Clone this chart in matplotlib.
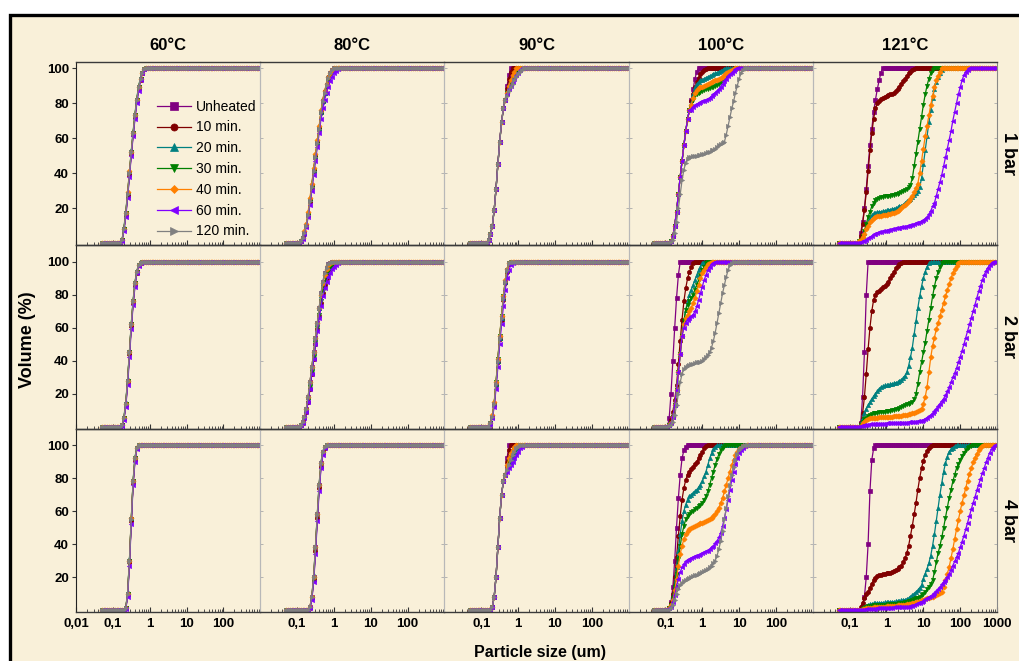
import numpy as np
import matplotlib
matplotlib.use('Agg')
import matplotlib.pyplot as plt
from matplotlib.patches import Rectangle
from matplotlib.ticker import LogLocator, NullFormatter

plt.rcParams['font.family'] = ['Liberation Sans', 'DejaVu Sans']

# laser diffraction size classes (um)
sizes = np.array([
    0.0502, 0.0564, 0.0632, 0.0710, 0.0796, 0.0893, 0.1002, 0.1125, 0.1262, 0.1416,
    0.1589, 0.1783, 0.2000, 0.2244, 0.2518, 0.2825, 0.3170, 0.3557, 0.3991, 0.4477,
    0.5024, 0.5637, 0.6325, 0.7096, 0.7962, 0.8934, 1.002, 1.125, 1.262, 1.416,
    1.589, 1.783, 2.000, 2.244, 2.518, 2.825, 3.170, 3.557, 3.991, 4.477,
    5.024, 5.637, 6.325, 7.096, 7.962, 8.934, 10.02, 11.25, 12.62, 14.16,
    15.89, 17.83, 20.00, 22.44, 25.18, 28.25, 31.70, 35.57, 39.91, 44.77,
    50.24, 56.37, 63.25, 70.96, 79.62, 89.34, 100.2, 112.5, 126.2, 141.6,
    158.9, 178.3, 200.0, 224.4, 251.8, 282.5, 317.0, 355.7, 399.1, 447.7,
    502.4, 563.7, 632.5, 709.6, 796.2, 893.4, 1002.0])

series = ['Unheated', '10 min.', '20 min.', '30 min.', '40 min.', '60 min.', '120 min.']
colors = ['#800080', '#800000', '#008080', '#008000', '#FF8000', '#8000FF', '#808080']
markers = ['s', 'o', '^', 'v', 'D', '<', '>']
temps = ['60°C', '80°C', '90°C', '100°C', '121°C']
pressures = ['1 bar', '2 bar', '4 bar']

# cumulative volume %: (first size class listed, values); 0 below, 100 above
t60_1bar = {
    'Unheated': (0.1783, [2, 8, 17, 28, 40, 52, 63, 73, 82, 89, 94, 97.5, 99.5]),
    '10 min.': (0.1783, [2, 8, 16, 27, 39, 51, 62, 72, 81, 88, 93.5, 97, 99.5]),
    '20 min.': (0.1783, [2, 9, 18, 29, 41, 53, 64, 74, 83, 90, 94.5, 98, 99.6]),
    '30 min.': (0.1783, [2, 8, 17, 28, 40, 52, 63, 73, 82, 89, 94, 97.5, 99.5]),
    '40 min.': (0.1783, [2, 8, 17, 29, 41, 52, 63, 73, 82, 89, 94, 97.5, 99.5]),
    '60 min.': (0.1783, [1.5, 7, 15, 26, 38, 50, 61, 71, 80, 87, 93, 97, 99.3]),
    '120 min.': (0.1783, [2, 8, 17, 28, 40, 52, 63, 73, 82, 89, 94, 97.5, 99.5]),
}
t60_2bar = {
    'Unheated': (0.1783, [1, 5, 14, 28, 45, 62, 76, 87, 94, 98, 99.5]),
    '10 min.': (0.1783, [1, 5, 13, 27, 44, 61, 75, 86, 93.5, 98, 99.5]),
    '20 min.': (0.1783, [1, 6, 15, 29, 46, 63, 77, 88, 94.5, 98.5, 99.6]),
    '30 min.': (0.1783, [1, 5, 14, 28, 45, 62, 76, 87, 94, 98, 99.5]),
    '40 min.': (0.1783, [1, 5, 14, 28, 45, 62, 76, 87, 94, 98, 99.5]),
    '60 min.': (0.1783, [0.5, 4, 12, 25, 42, 59, 74, 85, 93, 97.5, 99.3]),
    '120 min.': (0.1783, [1, 5, 14, 28, 45, 62, 76, 87, 94, 98, 99.5]),
}
t60_4bar = {
    'Unheated': (0.2244, [1, 10, 30, 55, 78, 92, 98]),
    '10 min.': (0.2244, [1, 9, 29, 54, 77, 91, 98]),
    '20 min.': (0.2244, [1, 11, 31, 56, 79, 93, 98.5]),
    '30 min.': (0.2244, [1, 10, 30, 55, 78, 92, 98]),
    '40 min.': (0.2244, [1, 10, 30, 56, 78, 92, 98]),
    '60 min.': (0.2244, [0.5, 8, 27, 52, 76, 90, 97.5]),
    '120 min.': (0.2244, [1, 10, 30, 55, 78, 92, 98]),
}

t80_1bar = {
    'Unheated': (0.1262, [1, 3, 6, 10, 16, 24, 32, 41, 49, 57, 65, 75, 81, 86, 90.5, 94.5, 97, 99]),
    '10 min.': (0.1262, [1, 3, 6, 10, 16, 24, 33, 42, 50, 58, 66, 75, 82, 87, 91, 95, 97.5, 99]),
    '20 min.': (0.1262, [1, 3, 6, 11, 17, 25, 33, 42, 50, 58, 66, 75, 81, 86, 90.5, 94.5, 97, 99]),
    '30 min.': (0.1262, [1, 3, 6, 10, 16, 24, 32, 41, 49, 57, 65, 74, 80, 85, 89.5, 93.5, 96, 98, 99.5]),
    '40 min.': (0.1262, [1, 3, 7, 11, 18, 26, 34, 43, 51, 59, 67, 76, 82, 87, 91, 95, 97.5, 99]),
    '60 min.': (0.1262, [1, 2.5, 5, 9, 15, 22, 30, 39, 47, 55, 63, 71, 77, 82, 86, 89.5, 92.5, 95, 97, 98.5, 99.5]),
    '120 min.': (0.1262, [1, 3, 6, 10, 16, 24, 32, 41, 49, 57, 65, 75, 81, 86, 90.5, 94.5, 97, 99]),
}
t80_2bar = {
    'Unheated': (0.1262, [1, 3, 6, 11, 18, 27, 36, 45, 54, 63, 72, 81, 88, 93, 96.5, 98.5, 99.5]),
    '10 min.': (0.1262, [1, 2.5, 5, 9, 15, 23, 32, 41, 50, 59, 67, 75, 81, 86, 90, 93, 95.5, 97, 98.5, 99.3]),
    '20 min.': (0.1262, [1, 3, 6, 11, 18, 27, 36, 45, 54, 63, 72, 80, 87, 92, 95.5, 98, 99.3]),
    '30 min.': (0.1262, [1, 2.5, 5, 10, 16, 24, 33, 42, 51, 60, 68, 76, 82, 87, 91, 94, 96, 97.5, 98.5, 99.3]),
    '40 min.': (0.1262, [1, 3, 6, 11, 18, 27, 36, 45, 54, 63, 72, 80, 87, 92, 95.5, 98, 99.3]),
    '60 min.': (0.1262, [1, 2.5, 5, 9, 15, 23, 32, 41, 50, 58, 66, 73, 79, 84, 88, 91, 93.5, 95.5, 97, 98, 99, 99.6]),
    '120 min.': (0.1262, [1, 3, 6, 11, 18, 27, 36, 45, 54, 63, 72, 81, 88, 93, 96.5, 98.5, 99.5]),
}
t80_4bar = {
    'Unheated': (0.2244, [2, 8, 20, 38, 58, 76, 89, 96, 99]),
    '10 min.': (0.2244, [1.5, 7, 18, 36, 56, 74, 87, 95, 98.5]),
    '20 min.': (0.2244, [2, 8, 21, 39, 59, 77, 90, 96.5, 99]),
    '30 min.': (0.2244, [1.5, 7, 19, 37, 57, 75, 88, 95.5, 99]),
    '40 min.': (0.2244, [2, 8, 20, 38, 58, 76, 89, 96, 99]),
    '60 min.': (0.2244, [1, 6, 17, 34, 54, 72, 86, 94, 98]),
    '120 min.': (0.2244, [2, 8, 20, 38, 58, 76, 89, 96, 99]),
}

rise90_1 = [2, 5, 10, 19, 31, 45, 58, 69, 77, 82]
t90_1bar = {
    'Unheated': (0.1589, rise90_1 + [90, 96]),
    '10 min.': (0.1589, rise90_1 + [88, 94, 98]),
    '20 min.': (0.1589, rise90_1 + [86, 89, 92, 95, 97, 99]),
    '30 min.': (0.1589, rise90_1 + [86, 89, 91, 93, 95, 97, 98.5]),
    '40 min.': (0.1589, rise90_1 + [86, 90, 93, 96, 98]),
    '60 min.': (0.1589, rise90_1 + [85, 88, 90, 92, 94, 96, 97.5, 99]),
    '120 min.': (0.1589, rise90_1 + [84, 87, 89, 91, 93, 95, 96.5, 98, 99]),
}
t90_2bar = {
    'Unheated': (0.1783, [2, 6, 14, 26, 40, 54, 66, 78, 88, 95, 99]),
    '10 min.': (0.1783, [2, 6, 13, 25, 39, 53, 65, 77, 87, 94, 98.5]),
    '20 min.': (0.1783, [2, 6, 14, 26, 40, 54, 66, 78, 88, 95, 99]),
    '30 min.': (0.1783, [2, 6, 14, 27, 41, 55, 67, 79, 88, 95, 99]),
    '40 min.': (0.1783, [2, 7, 15, 27, 41, 55, 67, 79, 89, 95.5, 99]),
    '60 min.': (0.1783, [1.5, 5, 12, 23, 36, 50, 62, 73, 83, 90, 95, 98, 99.5]),
    '120 min.': (0.1783, [2, 6, 14, 26, 40, 54, 66, 78, 88, 95, 99]),
}
rise90_4 = [2, 8, 20, 38, 56, 70, 78, 82]
t90_4bar = {
    'Unheated': (0.2000, rise90_4 + [92]),
    '10 min.': (0.2000, rise90_4 + [90, 97]),
    '20 min.': (0.2000, rise90_4 + [86, 88, 90, 92, 94, 96, 98]),
    '30 min.': (0.2000, rise90_4 + [87, 90, 93, 95, 97, 99]),
    '40 min.': (0.2000, rise90_4 + [88, 92, 95, 97, 99]),
    '60 min.': (0.2000, rise90_4 + [84, 86, 88, 90, 92, 94, 96, 98, 99]),
    '120 min.': (0.2000, rise90_4 + [85, 88, 91, 94, 96, 98, 99]),
}

rise100_1 = [1, 4, 10, 18, 28, 38, 47, 56, 64, 71, 76]
t100_1bar = {
    'Unheated': (0.1416, rise100_1 + [82, 88, 94, 98]),
    '10 min.': (0.1416, rise100_1 + [81, 85, 89, 92, 94.5, 96.5, 98, 99, 99.5]),
    '20 min.': (0.1416, rise100_1 + [80, 85, 89, 91, 92, 93, 93.5, 94, 94.5, 95, 95.5, 96,
                                     96.5, 97, 97.5, 98, 98.5, 99, 99.5]),
    '30 min.': (0.1416, rise100_1 + [78, 82, 84.5, 85.5, 86, 86.5, 87, 87.5, 88, 88.3, 88.6, 89,
                                     89.5, 90, 90.5, 91, 92, 93, 94, 95, 96, 97, 98, 99, 99.5]),
    '40 min.': (0.1416, rise100_1 + [79, 83, 86, 87.5, 88.5, 89, 89.5, 90, 90.5, 91, 91.5, 92,
                                     92.5, 93, 93.5, 94, 94.5, 95, 96, 97, 98, 98.5, 99, 99.5]),
    '60 min.': (0.1416, rise100_1 + [76, 78, 79, 79.5, 80, 80.5, 81, 81.5, 82, 82.5, 83, 84, 85,
                                     86, 87, 88, 89.5, 91, 92.5, 94, 95.5, 96.5, 97.5, 98.5,
                                     99.3, 99.8]),
    '120 min.': (0.1416, [0.5, 2, 6, 12, 20, 28, 36, 42, 46, 48, 49,
                          49.5, 50, 50, 50, 50.5, 50.5, 51, 51, 51.5, 52, 52, 53, 53.5, 54, 55, 56,
                          56.5, 57, 58, 62, 67, 72, 77, 81, 86, 90, 94, 97, 99]),
}
rise100_2 = [1, 2, 6, 13, 22, 33, 44, 55, 64, 71]
t100_2bar = {
    'Unheated': (0.1262, [5, 20, 40, 60, 78, 92]),
    '10 min.': (0.1262, [1, 4, 9, 16, 25, 38, 52, 65, 76, 84, 90, 94, 97, 99]),
    '20 min.': (0.1262, rise100_2 + [76, 80, 83, 86, 89, 92, 95, 97, 99]),
    '30 min.': (0.1262, rise100_2 + [74, 76, 78, 80, 83, 86, 89, 92, 95, 97, 99]),
    '40 min.': (0.1262, rise100_2[:8] + [62, 66, 68, 70, 72, 75, 78, 82, 86, 90, 93, 95, 97,
                                         98.5, 99.5]),
    '60 min.': (0.1262, rise100_2[:8] + [60, 63, 65, 66, 67, 68, 70, 73, 77, 81, 85, 89, 92, 95,
                                         97, 98.5, 99.5]),
    '120 min.': (0.1262, [0.5, 1, 3, 7, 13, 20, 27, 32, 35, 36.5, 37, 37.5, 38, 38, 38.5, 39, 39,
                          39.5, 40, 41, 42, 43.5, 45, 48, 52, 57, 63, 69, 75, 81, 86, 91, 95, 98,
                          99.5]),
}
t100_4bar = {
    'Unheated': (0.1262, [1, 5, 14, 30, 50, 68, 82, 92, 97, 99]),
    '10 min.': (0.1262, [1, 4, 10, 20, 32, 45, 57, 67, 74, 79, 82, 84, 85.5, 87, 88.5, 90, 92,
                         94, 96, 98, 99.3]),
    '20 min.': (0.1262, [1, 3, 8, 16, 26, 36, 46, 54, 60, 64, 67, 69, 70, 71, 72, 73, 74.5, 76,
                         78, 81, 84, 88, 92, 95, 97.5, 99]),
    '30 min.': (0.1262, [1, 3, 7, 14, 22, 31, 39, 46, 51, 55, 57, 58.5, 59.5, 60, 61, 62, 63, 64,
                         65, 67, 69, 72, 76, 80, 84, 88, 91.5, 94.5, 97, 98.5, 99.5]),
    '40 min.': (0.1262, [1, 3, 6, 12, 19, 27, 34, 39, 43, 46, 48, 49, 50, 50.5, 51, 51.5, 52,
                         52.5, 53, 53.5, 54, 54.5, 55, 56, 57, 58, 60, 62, 65, 68, 72, 76, 80, 84,
                         88, 91, 94, 96, 97.5, 98.5, 99.2, 99.7]),
    '60 min.': (0.1262, [1, 2, 5, 9, 14, 19, 23, 26, 28, 29.5, 30.5, 31, 31.5, 32, 32.5, 33,
                         33.5, 34, 34.5, 35, 35.5, 36, 37, 38, 39, 40.5, 42, 44, 47, 51, 56, 61,
                         67, 73, 79, 84, 88.5, 92, 95, 97, 98.5, 99.5]),
    '120 min.': (0.1416, [1, 3, 6, 10, 13, 15, 16.5, 17.5, 18.5, 19, 19.5, 20, 20.5, 21, 21.5,
                          22, 22.5, 23, 23.5, 24, 25, 26, 27, 28.5, 30, 33, 37, 42, 48, 55, 62,
                          69, 76, 82, 87, 91, 94.5, 97, 98.5, 99.5]),
}

t121_1bar = {
    'Unheated': (0.2000, [6, 12, 20, 31, 44, 56, 65, 75, 82, 88, 93, 97.5]),
    '10 min.': (0.2000, [4, 11, 19, 29, 41, 53, 63, 71, 77, 80, 81.5, 82.5, 83, 83.5, 84, 84.5,
                         85, 85.5, 86, 87, 88, 89.5, 91, 92.5, 94, 95.5, 97, 98, 99, 99.5]),
    '20 min.': (0.1783, [1, 2, 4, 6, 9, 12, 14, 16, 17, 17.5,
                         17.8, 18, 18, 18.2, 18.5, 18.7, 19, 19.2, 19.5, 19.8, 20, 20.5, 21, 21.5,
                         22, 23, 24, 24.5, 25.5, 26.5, 27.5, 28.5, 30,
                         32, 37, 45, 53, 61, 69, 76, 83, 88, 92, 95, 97.5, 99]),
    '30 min.': (0.1783, [1, 2, 4, 7, 11, 15, 18, 21, 23, 24.5, 25.5, 26,
                         26.3, 26.5, 26.7, 27, 27, 27.2, 27.5, 27.7, 28, 28.3, 28.7, 29.2, 30,
                         30.5, 31, 32, 33.5, 37, 44, 51, 58, 65, 72, 79, 85, 90, 94, 97, 99]),
    '40 min.': (0.1783, [1, 2, 3.5, 5.5, 8, 10, 12, 13.5, 14.5, 15,
                         15.3, 15.5, 15.7, 16, 16, 16.2, 16.5, 16.7, 17, 17.3, 17.7, 18.2, 19, 20,
                         21, 22, 23, 24, 25.5, 27, 29, 31.5, 34, 40, 47, 54, 61, 67, 73, 79, 84,
                         89, 93, 95.5, 98]),
    '60 min.': (0.2000, [0.5, 1, 1.5, 2, 3, 3.5, 4, 5, 5.5, 6,
                         6.2, 6.5, 6.8, 7, 7.2, 7.5, 7.7, 8, 8.2, 8.5, 8.7, 8.9, 9.1, 9.3, 9.5,
                         9.7, 10, 10.3, 10.6, 11, 11.4, 11.8, 12.2, 12.6, 13,
                         14, 15, 16.5, 18.5, 21, 23, 27, 31, 35, 39, 44, 49, 54, 59, 64, 70, 75,
                         80, 85, 89, 93, 96, 98, 99]),
}
t121_2bar = {
    'Unheated': (0.2000, [2, 18, 45, 80]),
    '10 min.': (0.2000, [2, 8, 18, 32, 47, 60, 70, 77, 80, 81.5, 82.5, 83.5, 84.5, 85.5, 86.5, 88,
                         90, 92, 94, 96, 97.5, 98.5, 99.5]),
    '20 min.': (0.2000, [2, 5, 8.5, 11, 13, 15, 17, 18.5, 20, 21.5, 23, 24,
                         24.5, 25, 25, 25.3, 25.6, 26, 26.3, 26.7, 27, 27.5,
                         28.5, 29.5, 31, 33, 37, 42, 48, 56, 64, 72, 79, 85, 90, 94, 97, 99]),
    '30 min.': (0.2000, [1, 3, 4.5, 5.5, 6.5, 7, 7.5, 8, 8.3,
                         8.5, 8.7, 9, 9, 9.2, 9.4, 9.6, 9.8, 10, 10.3, 10.6, 11, 11.5,
                         12, 12.5, 13, 13.5, 14, 14.5, 15, 16.5, 20, 26, 33, 39, 45, 51, 58, 65,
                         72, 79, 85, 90, 94, 97, 99]),
    '40 min.': (0.2000, [0.5, 2, 3, 4, 4.5, 5, 5.2, 5.4,
                         5.5, 5.5, 5.6, 5.7, 5.8, 5.8, 5.9, 6, 6, 6.1, 6.2, 6.3, 6.4, 6.5, 6.7,
                         6.9, 7.1, 7.3, 7.5, 7.7,
                         8, 8.5, 9, 9.5, 10, 11, 14, 18, 24, 33, 42, 49, 54, 59, 63, 67, 71, 75,
                         79, 83, 86.5, 90, 93, 95.5, 97.5, 99]),
    '60 min.': (0.2000, [0.3, 0.6, 1,
                         1.2, 1.3, 1.4, 1.5, 1.6, 1.7, 1.7, 1.8, 1.8, 1.9, 1.9, 2, 2, 2.1, 2.1,
                         2.2, 2.2, 2.3, 2.3, 2.4, 2.4, 2.5, 2.5, 2.6, 2.7, 2.8, 3, 3.1, 3.2, 3.3,
                         3.5, 4, 4.8, 5.5, 6.3, 7, 8, 9.5, 11, 12.5, 14, 15.5, 17, 19, 21.5, 24,
                         27, 30, 32.5, 35.5, 39, 42.5, 46, 50, 54, 58, 62, 66, 70, 74, 78, 82,
                         85.5, 89, 92, 94.5, 96.5, 98, 99]),
}
t121_4bar = {
    'Unheated': (0.2244, [2, 8, 20, 40, 72, 91, 98]),
    '10 min.': (0.2000, [2, 4.5, 7, 9.5, 11, 13.5, 16, 18, 19.5, 20.5, 21, 21.5, 22, 22, 22.2,
                         22.4, 22.6, 23, 23.5, 24, 25, 26, 27, 29, 31.5, 34.5, 39, 45, 51, 58, 65,
                         73, 80, 86, 90.5, 94, 96.5, 98.3, 99.3]),
    '20 min.': (0.2000, [0.5, 1, 2, 2.5, 3, 3.5,
                         3.8, 4, 4, 4.2, 4.3, 4.4, 4.5, 4.6, 4.7, 4.8, 4.9, 5, 5.1, 5.2, 5.4, 5.6,
                         5.8, 6, 6.3, 6.7, 7.2,
                         8, 9, 10, 11, 12, 13.5, 15, 19, 22, 25, 28.5, 33, 39, 46, 54, 62, 70, 77,
                         84, 89, 93, 96, 97.5, 98.5, 99.3]),
    '30 min.': (0.2000, [0.3, 0.7, 1.2, 1.7, 2.2, 2.5,
                         2.7, 2.8, 2.9, 3, 3, 3.1, 3.2, 3.2, 3.3, 3.4, 3.5, 3.6, 3.7, 3.8, 3.9, 4,
                         4.2, 4.4, 4.6, 4.9, 5.2, 5.6, 6,
                         6.5, 7, 7.5, 8, 9, 10, 11, 12.5, 14, 16, 18, 23, 29, 34.5, 39, 44, 50, 56,
                         62, 68, 73, 78, 82, 86, 88.5, 91, 93.5, 95.5, 97, 98, 98.8, 99.4, 99.8]),
    '40 min.': (0.2000, [0.2, 0.5, 0.8, 1, 1.2,
                         1.4, 1.5, 1.6, 1.7, 1.8, 1.9, 2, 2, 2.1, 2.2, 2.3, 2.4, 2.5, 2.6, 2.7,
                         2.8, 2.9, 3, 3.1, 3.2, 3.4, 3.6, 3.8, 4, 4.3, 4.6, 5, 5.5, 6,
                         6.3, 6.6, 7, 7.4, 7.8, 8.2, 8.7, 9.2, 9.8, 10.4,
                         11, 14, 18, 22, 26, 31.5, 37, 43, 49, 54.5, 60, 65, 69.5, 74, 78.5, 82.5,
                         86, 89.5, 92.4, 94.8, 96.8, 98.4, 99.5]),
    '60 min.': (0.2000, [0.1, 0.2, 0.3, 0.4, 0.5, 0.6, 0.7, 0.8, 0.9, 1, 1, 1.1, 1.2, 1.2, 1.3,
                         1.4, 1.4, 1.5, 1.6, 1.6, 1.7, 1.8, 1.8, 1.9, 1.9, 2, 2,
                         2.3, 2.6, 3, 3.5, 4, 4.5, 5, 5.7, 6.4, 7.1, 7.8, 8.5, 9.3, 10.2, 11.3,
                         12.5, 14, 15.5, 17, 18.5, 20, 22, 24.5, 27, 29.5, 32, 34.5, 38, 41.5, 45,
                         49, 53, 57, 61, 65, 68.5, 72.5, 76, 79.5, 83, 86, 89.5, 92.5, 95.5, 97.5,
                         99]),
}

panels = [
    [t60_1bar, t80_1bar, t90_1bar, t100_1bar, t121_1bar],
    [t60_2bar, t80_2bar, t90_2bar, t100_2bar, t121_2bar],
    [t60_4bar, t80_4bar, t90_4bar, t100_4bar, t121_4bar],
]


def cumulative(start, vals):
    i0 = int(np.argmin(np.abs(np.log10(sizes) - np.log10(start))))
    y = np.full(len(sizes), 100.0)
    y[:i0] = 0.0
    y[i0:i0 + len(vals)] = vals
    return y


tick_text = {0.01: '0,01', 0.1: '0,1', 1: '1', 10: '10', 100: '100', 1000: '1000'}

fig, axes = plt.subplots(3, 5, figsize=(10.19, 6.61), dpi=100)
fig.patch.set_facecolor('white')
fig.subplots_adjust(left=76 / 1019, right=997 / 1019, top=1 - 62 / 661, bottom=1 - 612 / 661,
                    wspace=0, hspace=0)
fig.patches.append(Rectangle((10 / 1019, -0.1), 1.2, 1.1 - 15 / 661, transform=fig.transFigure,
                             facecolor='#F9F0D9', edgecolor='black', linewidth=2.4, zorder=-10))

for r in range(3):
    for c in range(5):
        ax = axes[r, c]
        ax.set_facecolor('none')
        data = panels[r][c]
        for name, col, mk in zip(series, colors, markers):
            if name not in data:
                continue
            start, vals = data[name]
            ax.plot(sizes, cumulative(start, vals), color=col, marker=mk,
                    ms=3.0 if mk != 'D' else 2.6, mew=0.5, lw=0.9, label=name)
        ax.set_xscale('log')
        ax.set_xlim(0.01, 1000)
        ax.set_ylim(-1.2, 103.5 if r == 0 else 110)

        if c == 0:
            xt = [0.01, 0.1, 1, 10, 100]
        elif c == 4:
            xt = [0.1, 1, 10, 100, 1000]
        else:
            xt = [0.1, 1, 10, 100]
        ax.set_xticks(xt)
        ax.xaxis.set_minor_locator(LogLocator(base=10, subs=np.arange(2, 10), numticks=20))
        ax.xaxis.set_minor_formatter(NullFormatter())
        if r == 2:
            ax.set_xticklabels([tick_text[t] for t in xt], fontsize=9.5, fontweight='bold')
        else:
            ax.set_xticklabels([])
        ax.tick_params(axis='x', which='major', direction='in', length=3.5, width=0.8,
                       color='#333333', pad=4)
        ax.tick_params(axis='x', which='minor', direction='in', length=2, width=0.6,
                       color='#333333')

        ax.set_yticks([20, 40, 60, 80, 100])
        if c == 0:
            ax.set_yticklabels(['20', '40', '60', '80', '100'], fontsize=9.5, fontweight='bold')
            ax.tick_params(axis='y', direction='out', length=3, width=0.8, color='#333333', pad=2)
        else:
            ax.set_yticklabels([])
            ax.tick_params(axis='y', direction='in', length=2.5, width=0.6, color='#aaaaaa',
                           left=True, right=True)

        for side in ('top', 'bottom'):
            ax.spines[side].set_color('#3a3a3a')
            ax.spines[side].set_linewidth(1.0)
        for side in ('left', 'right'):
            ax.spines[side].set_color('#b8b8b8')
            ax.spines[side].set_linewidth(0.8)
        if c == 0:
            ax.spines['left'].set_color('#222222')
        if c == 4:
            ax.spines['right'].set_color('#888888')

axes[0, 0].legend(loc='upper left', bbox_to_anchor=(0.438, 0.795), frameon=False, fontsize=10,
                  handlelength=2.5, handletextpad=0.3, labelspacing=0.49, borderaxespad=0,
                  borderpad=0, markerscale=1.7)

for c, t in enumerate(temps):
    x0 = (76 + 184.2 * c + 92) / 1019
    fig.text(x0, 1 - 45 / 661, t, ha='center', va='center', fontsize=12, fontweight='bold')

for r, p in enumerate(pressures):
    yc = 1 - (62 + 183.3 * r + 91.5) / 661
    fig.text(1008 / 1019, yc, p, ha='center', va='center', rotation=270, fontsize=13,
             fontweight='bold')

fig.text(28 / 1019, 1 - 340 / 661, 'Volume (%)', ha='center', va='center', rotation=90,
         fontsize=13, fontweight='bold')
fig.text(540 / 1019, 1 - 652 / 661, 'Particle size (um)', ha='center', va='center',
         fontsize=11.5, fontweight='bold')

fig.savefig('out.png', dpi=100, facecolor=fig.get_facecolor())
